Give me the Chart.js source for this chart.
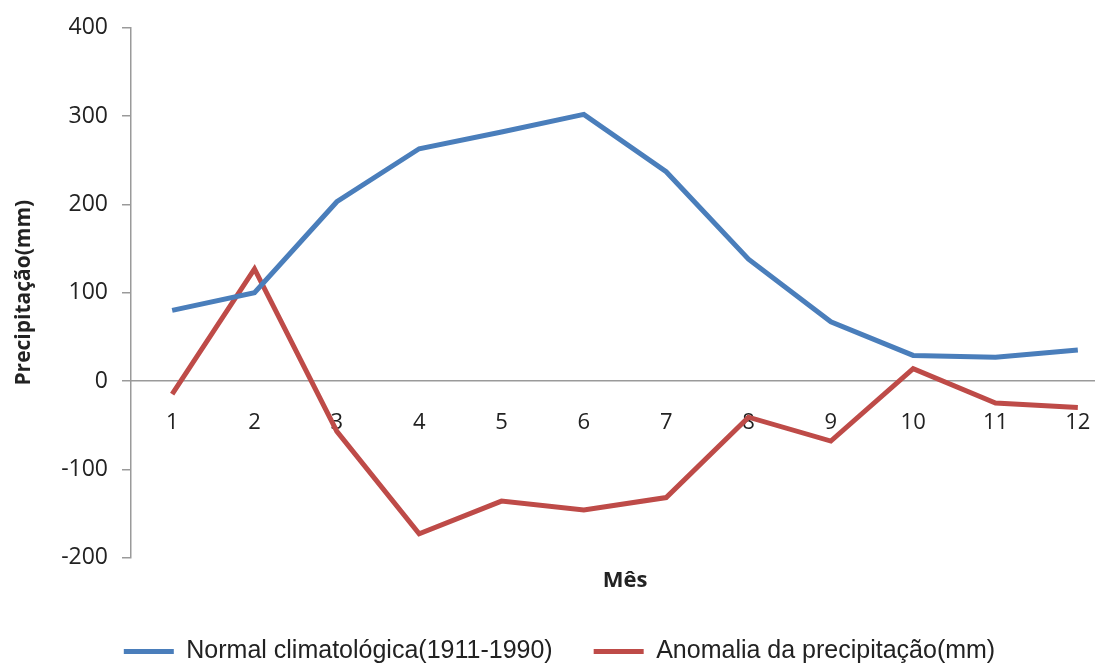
<!DOCTYPE html>
<html>
<head>
<meta charset="utf-8">
<script src="https://cdn.jsdelivr.net/npm/chart.js@4.4.1/dist/chart.umd.min.js"></script>
<style>
  html, body { margin: 0; padding: 0; background: #ffffff; overflow: hidden; }
  #wrap { width: 1130px; height: 664px; }
</style>
</head>
<body>
<div id="wrap"><canvas id="chart" width="1130" height="664"></canvas></div>
<script>
// Meses do ano
const meses = ['1', '2', '3', '4', '5', '6', '7', '8', '9', '10', '11', '12'];

// Normal climatológica 1911-1990 (mm)
const normalClimatologica = [80, 100, 203, 263, 282, 302, 237, 138, 67, 29, 27, 35];

// Anomalia da precipitação (mm)
const anomaliaPrecipitacao = [-15, 127, -57, -173, -136, -146, -132, -41, -68, 14, -25, -30];

// Marcas do eixo vertical
const yTicks = [-200, -100, 0, 100, 200, 300, 400];

const serieNomes = ['Normal climatológica(1911-1990)', 'Anomalia da precipitação(mm)'];

const AZUL = '#4A7EBB';
const VERMELHO = '#BE4B48';
const CINZA = '#9a9a9a';
const TEXTO = '#222222';

Chart.defaults.font.family = "'Open Sans', 'Liberation Sans', sans-serif";
Chart.defaults.color = TEXTO;

new Chart(document.getElementById('chart'), {
  type: 'line',
  data: {
    labels: meses,
    datasets: [
      {
        label: serieNomes[0],
        data: normalClimatologica,
        borderColor: AZUL,
        backgroundColor: AZUL,
        borderWidth: 5,
        pointRadius: 0,
        tension: 0
      },
      {
        label: serieNomes[1],
        data: anomaliaPrecipitacao,
        borderColor: VERMELHO,
        backgroundColor: VERMELHO,
        borderWidth: 5,
        pointRadius: 0,
        tension: 0
      }
    ]
  },
  options: {
    responsive: false,
    animation: false,
    layout: { padding: { top: 24, right: 11, left: 0, bottom: -10 } },
    scales: {
      x: {
        type: 'category',
        position: { y: 0 },
        offset: true,
        grid: { display: false, drawTicks: false },
        border: { display: true, color: CINZA, width: 1.5 },
        ticks: { padding: 29, font: { size: 22 }, color: TEXTO, maxRotation: 0 }
      },
      y: {
        min: -200,
        max: 400,
        afterBuildTicks: s => { s.ticks = yTicks.map(v => ({ value: v })); },
        afterFit: s => { s.width = 131; },
        grid: { display: true, drawOnChartArea: false, drawTicks: true, tickLength: 9, color: CINZA, lineWidth: 1.5 },
        border: { display: true, color: CINZA, width: 1.5 },
        ticks: { padding: 14, font: { size: 23 }, color: TEXTO },
        title: {
          display: true,
          text: 'Precipitação(mm)',
          font: { size: 21, weight: 'bold' },
          color: TEXTO,
          padding: { top: 11, bottom: 0 }
        }
      }
    },
    plugins: {
      tooltip: { enabled: false },
      title: {
        display: true,
        text: 'Mês',
        position: 'bottom',
        fullSize: false,
        weight: 500,
        font: { size: 22, weight: 'bold' },
        color: TEXTO,
        padding: { top: 10, bottom: 4 }
      },
      legend: {
        position: 'bottom',
        labels: {
          boxWidth: 50,
          boxHeight: 5,
          padding: 41,
          color: TEXTO,
          font: { family: "'Liberation Sans Narrow', 'Liberation Sans', sans-serif", size: 25 },
          generateLabels: chart => Chart.defaults.plugins.legend.labels.generateLabels(chart).map(l => Object.assign(l, { lineWidth: 0 }))
        }
      }
    }
  }
});
</script>
</body>
</html>
